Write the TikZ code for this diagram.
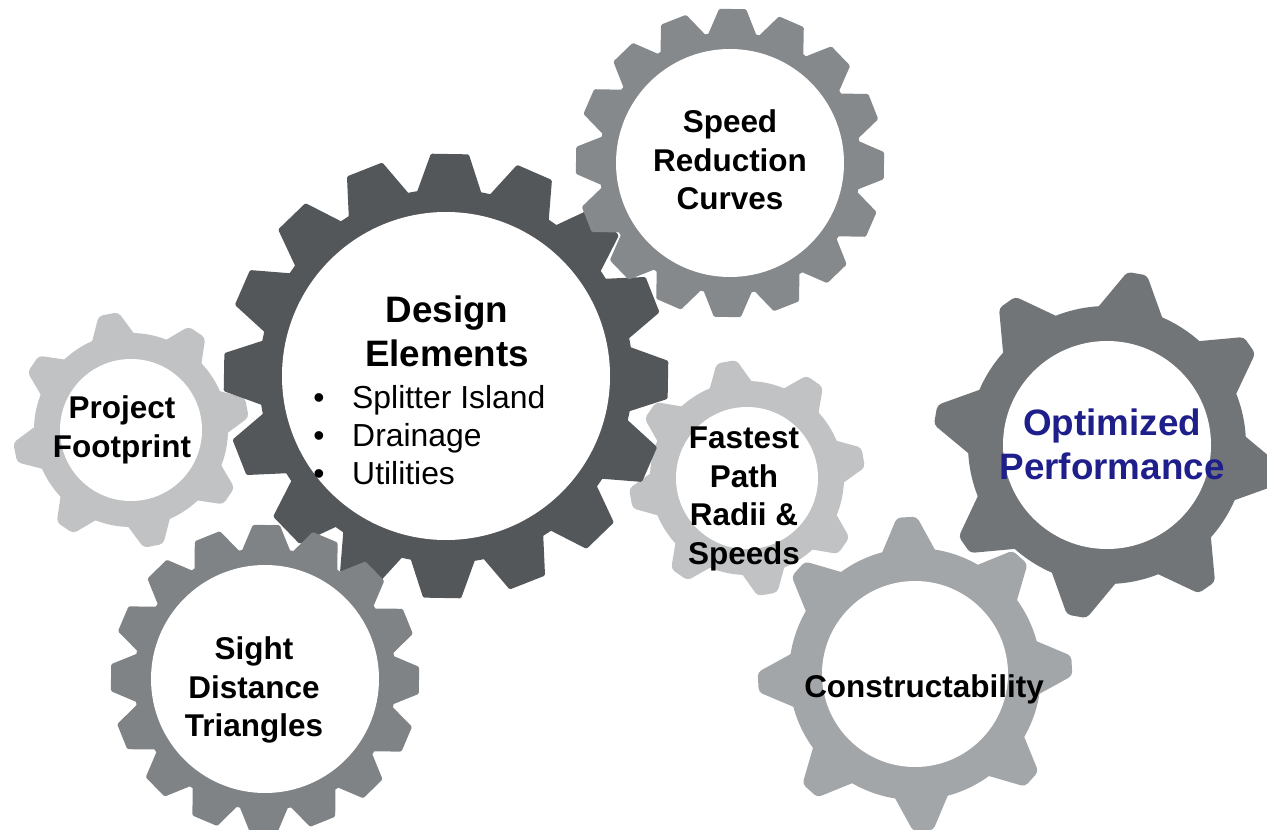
\documentclass[tikz,border=0pt]{standalone}
\usepackage{fontspec}
\setmainfont{Liberation Sans}
\definecolor{cDesign}{HTML}{54575A}
\definecolor{cSpeed}{HTML}{85898C}
\definecolor{cPale}{HTML}{C0C2C3}
\definecolor{cSight}{HTML}{808385}
\definecolor{cOpt}{HTML}{727577}
\definecolor{cCon}{HTML}{A3A6A9}
\definecolor{cBlue}{HTML}{1F1F8C}
\tikzset{
  gearSharp/.style={rounded corners=1pt},
  gearSoft/.style={rounded corners=3pt},
  lbl/.style={inner sep=0pt,align=center,font=\fontsize{23.6pt}{28.9pt}\selectfont\bfseries,text=black},
  lblbig/.style={inner sep=0pt,align=center,font=\fontsize{27.6pt}{33pt}\selectfont\bfseries},
  lbllist/.style={inner sep=0pt,align=left,font=\fontsize{23.9pt}{28.6pt}\selectfont}
}
% #1 centre, #2 teeth, #3 tip radius, #4 root radius, #5 hole radius, #6 rotation,
% #7 tip half width, #8 root half width, #9 style
\newcommand{\gearwheel}[9]{%
  \begin{scope}[shift={(#1)}]
  \fill[#9] (0,0) circle[radius=#4];
  \foreach \k in {1,...,#2}{
    \fill[#9,rotate={#6+\k*360/#2}]
      ({#4-0.3*(#3-#4)},{-(#8+0.3*(#8-#7))}) -- (#3,-#7) -- (#3,#7)
      -- ({#4-0.3*(#3-#4)},{#8+0.3*(#8-#7)}) -- cycle;
  }
  \fill[white] (0,0) circle[radius=#5];
  \end{scope}}
\begin{document}
\begin{tikzpicture}[x=0.75pt,y=-0.75pt]
\useasboundingbox (0,0) rectangle (1267,830);
\clip (0,0) rectangle (1267,830);
\gearwheel{131,430}{8}{118}{97}{71}{11}{10}{20}{cPale,gearSoft}
\gearwheel{747,478}{8}{118}{97}{71}{10}{10}{20}{cPale,gearSoft}
\gearwheel{446,376}{16}{222}{187}{164}{-1}{19}{31}{cDesign,gearSharp}
\gearwheel{730,163}{16}{154}{131}{114}{-1}{13.5}{23}{cSpeed,gearSharp}
\gearwheel{265,679}{16}{154}{131}{114}{-0.5}{13.5}{23}{cSight,gearSharp}
\gearwheel{1107,445}{8}{174}{139}{104}{35}{10}{30}{cOpt,gearSoft}
\gearwheel{915,674}{8}{157}{126}{93}{3}{10}{25}{cCon,gearSoft}
\node[lbl] (speed) at (730,160) {Speed\\Reduction\\Curves};
\node[lblbig] (design) at (447,331) {Design\\Elements};
\node[lbllist,anchor=north west] (list) at (313,385) {\makebox[29.25pt][l]{•}Splitter Island\\\makebox[29.25pt][l]{•}Drainage\\\makebox[29.25pt][l]{•}Utilities};
\node[lbl] (project) at (122,430) {Project\\Footprint};
\node[lbl] (sight) at (254,690) {Sight\\Distance\\Triangles};
\node[lbl] (fastest) at (744,499) {Fastest\\Path\\Radii \&\\Speeds};
\node[lblbig,text=cBlue] (opt) at (1112,444) {Optimized\\Performance};
\node[lbl] (con) at (924,689) {Constructability};
\end{tikzpicture}
\end{document}
